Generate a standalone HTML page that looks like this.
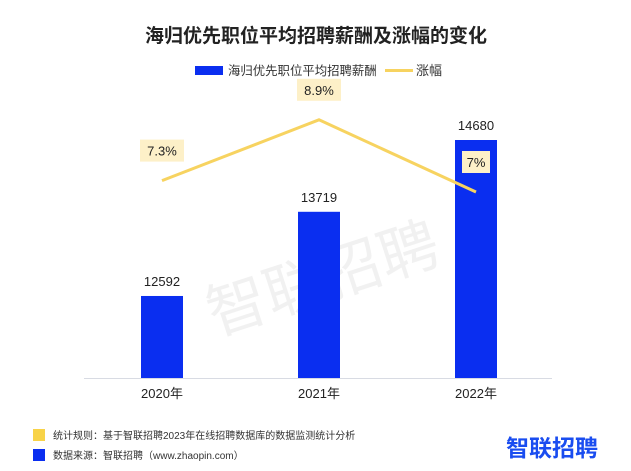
<!DOCTYPE html>
<html><head><meta charset="utf-8"><style>
body{margin:0;background:#fff;width:631px;height:466px;overflow:hidden;font-family:"Liberation Sans","Noto Sans CJK SC",sans-serif}
</style></head><body>
<svg width="631" height="466" xmlns="http://www.w3.org/2000/svg" font-family="Liberation Sans, Noto Sans CJK SC, sans-serif">
<text x="316" y="42" text-anchor="middle" font-size="19" font-weight="bold" fill="#222">海归优先职位平均招聘薪酬及涨幅的变化</text>
<g>
<rect x="195" y="66" width="28" height="9" fill="#0a2ef0"/>
<text x="228" y="75" font-size="12.4" fill="#333">海归优先职位平均招聘薪酬</text>
<line x1="385" y1="70.5" x2="413" y2="70.5" stroke="#f7d360" stroke-width="3"/>
<text x="416" y="75" font-size="13" fill="#333">涨幅</text>
</g>
<text x="320" y="300" text-anchor="middle" font-size="60" fill="#000" opacity="0.05" transform="rotate(-18 320 270)">智联招聘</text>
<line x1="84" y1="378.5" x2="552" y2="378.5" stroke="#d8dbe3"/>
<g id="bars"></g><g id="line"></g>
<g>
<rect x="33" y="429" width="12" height="12" fill="#f8d348"/>
<text x="53" y="439" font-size="10" fill="#333">统计规则：基于智联招聘2023年在线招聘数据库的数据监测统计分析</text>
<rect x="33" y="449" width="12" height="12" fill="#0a2ef0"/>
<text x="53" y="459" font-size="10" fill="#333">数据来源：智联招聘（www.zhaopin.com）</text>
<text x="598" y="456" text-anchor="end" font-size="23" font-weight="bold" fill="#1a4df0">智联招聘</text>
</g>
</svg>
<script>
const categories=["2020年","2021年","2022年"];
const salaries=[12592,13719,14680];
const growth=[7.3,8.9,7];
const growthLabels=["7.3%","8.9%","7%"];
const NS="http://www.w3.org/2000/svg";
const xPos=i=>162+i*157;
const yBar=v=>378-(v-11494)*0.0747;
const yLine=p=>192-(p-7)*38;
const bars=document.getElementById('bars'),line=document.getElementById('line');
function mk(tag,attrs,parent,text){const e=document.createElementNS(NS,tag);for(const k in attrs)e.setAttribute(k,attrs[k]);if(text!==undefined)e.textContent=text;parent.appendChild(e);return e;}
salaries.forEach((v,i)=>{
 const x=xPos(i),y=yBar(v);
 const r=mk('rect',{x:x-21,y:y,width:42,height:378-y,fill:'#0a2ef0'},bars);
 
 
 const t=mk('text',{x:x,y:y-10,'text-anchor':'middle','font-size':13,fill:'#222'},bars,String(v));
 
 
 const c=mk('text',{x:x,y:398,'text-anchor':'middle','font-size':13,fill:'#222'},bars,categories[i]);
 
 
});
const pts=growth.map((p,i)=>xPos(i)+','+yLine(p)).join(' ');
const pl=mk('polyline',{points:pts,fill:'none',stroke:'#f7d360','stroke-width':3},line);


growth.forEach((p,i)=>{
 const x=xPos(i),y=yLine(p)-30;
 const w=growthLabels[i].length*8+12;
 const b=mk('rect',{x:x-w/2,y:y-11,width:w,height:22,fill:'#fdf0c8'},line);
 
 
 const t=mk('text',{x:x,y:y+5,'text-anchor':'middle','font-size':13,fill:'#222'},line,growthLabels[i]);
 
 
});
</script>
</body></html>
